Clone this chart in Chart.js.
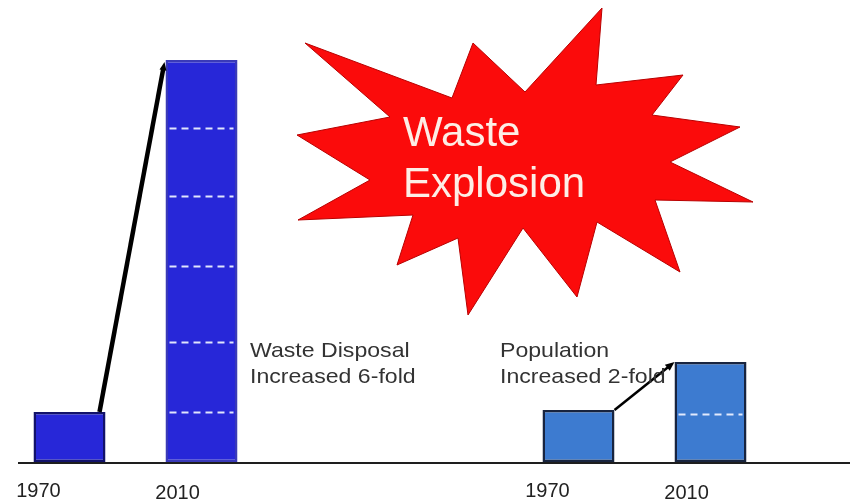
<!DOCTYPE html>
<html><head><meta charset="utf-8">
<script src="https://cdn.jsdelivr.net/npm/chart.js@4.4.0/dist/chart.umd.min.js"></script>
<style>
html,body{margin:0;padding:0;width:850px;height:500px;overflow:hidden;background:#fff;}
#wrap{position:absolute;left:-119px;top:0;width:1018px;height:500px;}
</style></head><body>
<div id="wrap"><canvas id="c"></canvas></div>
<script>
// ---- data ----
const categories = ['Waste Disposal', 'Population'];
const seriesNames = ['1970', '2010'];
const values1970 = [1.0, 1.04];
const values2010 = [8.04, 2.0];
const dividers2010 = [[1.0, 2.4, 3.92, 5.32, 6.68], [0.96]];
const yearLabels = ['1970', '2010'];
const notes = [['Waste Disposal', 'Increased 6-fold'], ['Population', 'Increased 2-fold']];
const titleLines = ['Waste', 'Explosion'];

// ---- styles ----
const fillColors = ['#2727d8', '#3d7bd0'];
const borderColors1970 = ['#12126a', '#18243f'];
const borderColors2010 = ['#3a3ab8', '#18243f'];
const FONT = "'Liberation Sans', Arial, sans-serif";

const starPts = [[305,43],[452,98],[473,43],[525,92],[602,8],[596,85],[683,75],[652,115],[740,127],[670,162],[753,202],[655,200],[680,272],[597,222],[577,297],[523,228],[468,315],[458,238],[397,265],[413,215],[298,220],[370,180],[297,135],[390,117]];

function arrow(ctx, x1, y1, x2, y2, w, head) {
  const ang = Math.atan2(y2 - y1, x2 - x1);
  ctx.save();
  ctx.strokeStyle = '#000'; ctx.fillStyle = '#000';
  ctx.lineWidth = w; ctx.lineCap = 'butt';
  ctx.beginPath();
  ctx.moveTo(x1, y1);
  ctx.lineTo(x2 - Math.cos(ang) * head * 0.8, y2 - Math.sin(ang) * head * 0.8);
  ctx.stroke();
  ctx.beginPath();
  ctx.moveTo(x2, y2);
  ctx.lineTo(x2 - head * Math.cos(ang - 0.4), y2 - head * Math.sin(ang - 0.4));
  ctx.lineTo(x2 - head * Math.cos(ang + 0.4), y2 - head * Math.sin(ang + 0.4));
  ctx.closePath(); ctx.fill();
  ctx.restore();
}

const deco = {
  id: 'deco',
  afterDatasetsDraw(chart) {
    const ctx = chart.ctx;
    const ys = chart.scales.y;
    const m0 = chart.getDatasetMeta(0).data;
    const m1 = chart.getDatasetMeta(1).data;
    // dashed dividers inside 2010 bars
    ctx.save();
    ctx.strokeStyle = 'rgba(235,240,255,0.95)';
    ctx.lineWidth = 2;
    ctx.setLineDash([7, 5]);
    dividers2010.forEach((list, i) => {
      const b = m1[i].getProps(['x', 'width'], true);
      list.forEach(v => {
        const y = Math.round(ys.getPixelForValue(v)) + 0.5;
        ctx.beginPath();
        ctx.moveTo(b.x - b.width / 2 + 4, y);
        ctx.lineTo(b.x + b.width / 2 - 4, y);
        ctx.stroke();
      });
    });
    ctx.restore();

    // year labels under bars
    ctx.save();
    ctx.fillStyle = '#222';
    ctx.font = '20px ' + FONT;
    ctx.textAlign = 'center';
    ctx.textBaseline = 'alphabetic';
    const dx = [-31, -24], by = [497, 499];
    [m0, m1].forEach((meta, s) => {
      meta.forEach(el => {
        const p = el.getProps(['x'], true);
        ctx.fillText(yearLabels[s], p.x + dx[s], by[s]);
      });
    });
    ctx.restore();

    // arrows between bars
    const a0 = m0[0].getProps(['x', 'y', 'width'], true);
    const a1 = m1[0].getProps(['x', 'y', 'width'], true);
    arrow(ctx, a0.x + a0.width / 2 - 6, a0.y, a1.x - a1.width / 2 - 1, a1.y + 2, 4.5, 9);
    const p0 = m0[1].getProps(['x', 'y', 'width'], true);
    const p1 = m1[1].getProps(['x', 'y', 'width'], true);
    arrow(ctx, p0.x + p0.width / 2, p0.y, p1.x - p1.width / 2, p1.y, 2.5, 10);

    // viewport-based annotations
    const shift = -chart.canvas.getBoundingClientRect().left;
    ctx.save();
    ctx.translate(shift, 0);
    // baseline
    const by0 = Math.round(ys.getPixelForValue(0));
    ctx.strokeStyle = '#1e1e1e'; ctx.lineWidth = 2;
    ctx.beginPath(); ctx.moveTo(18, by0 + 1); ctx.lineTo(850, by0 + 1); ctx.stroke();
    // star
    ctx.beginPath();
    starPts.forEach((p, i) => i ? ctx.lineTo(p[0], p[1]) : ctx.moveTo(p[0], p[1]));
    ctx.closePath();
    ctx.fillStyle = '#fb0b0b'; ctx.fill();
    ctx.strokeStyle = '#b80000'; ctx.lineWidth = 1; ctx.stroke();
    ctx.fillStyle = '#fdeee6';
    ctx.font = '42px ' + FONT;
    ctx.fillText(titleLines[0], 403, 146);
    ctx.fillText(titleLines[1], 403, 197);
    // notes
    ctx.fillStyle = '#333';
    ctx.font = '21px ' + FONT;
    const nx = [250, 500];
    notes.forEach((lines, i) => {
      lines.forEach((t, j) => {
        ctx.save();
        ctx.translate(nx[i], 357 + j * 26);
        ctx.scale(1.1, 1);
        ctx.fillText(t, 0, 0);
        ctx.restore();
      });
    });
    ctx.restore();
  }
};

new Chart(document.getElementById('c'), {
  type: 'bar',
  data: {
    labels: categories,
    datasets: [
      { label: seriesNames[0], data: values1970, backgroundColor: fillColors, borderColor: borderColors1970, borderWidth: 2.5, borderSkipped: false },
      { label: seriesNames[1], data: values2010, backgroundColor: fillColors, borderColor: borderColors2010, borderWidth: 2.5, borderSkipped: false }
    ]
  },
  options: {
    responsive: true,
    maintainAspectRatio: false,
    animation: false,
    categoryPercentage: 0.5187,
    barPercentage: 0.5455,
    layout: { padding: { top: 12, bottom: 38, left: 0, right: 0 } },
    plugins: { legend: { display: false }, tooltip: { enabled: false } },
    scales: {
      x: { display: false },
      y: { display: false, min: 0, max: 9 }
    }
  },
  plugins: [deco]
});
</script>
</body></html>
